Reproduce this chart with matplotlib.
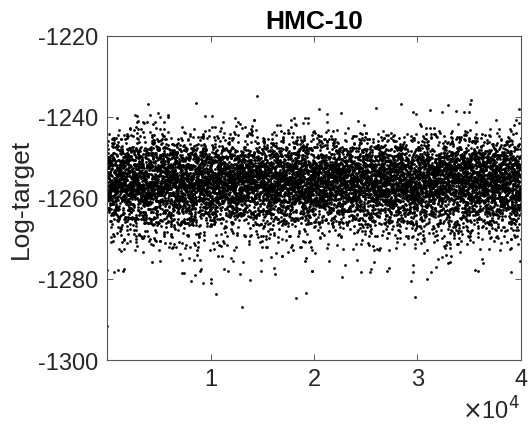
import numpy as np
import matplotlib
matplotlib.use("Agg")
import matplotlib.pyplot as plt

# trace of log-target for HMC-10, 40000 iterations kept every 4th
n_iter = 40000
thin = 4

# shape of the dense band (cumulative prob -> log-target)
band_probs = [0.0, 0.001, 0.005, 0.01, 0.02, 0.05, 0.1, 0.2, 0.3, 0.4, 0.5,
              0.6, 0.7, 0.8, 0.9, 0.95, 0.98, 0.99, 0.995, 0.999, 1.0]
band_levels = [-1279.0, -1276.0, -1273.0, -1271.5, -1269.5, -1266.5, -1264.0,
               -1261.0, -1259.2, -1257.6, -1256.2, -1254.8, -1253.3, -1251.6,
               -1249.2, -1247.3, -1245.2, -1243.8, -1242.6, -1240.5, -1238.5]

# isolated draws outside the band, read one by one
low_iter = [30, 680, 30, 1100, 1500, 7230, 8130, 8520, 9000, 9290, 10070,
            10070, 10550, 11300, 11700, 13000, 13840, 14900, 16100, 18230,
            19200, 19810, 19850, 22710, 25400, 25500, 27100, 27200, 29330,
            29780, 30940, 31300, 31800, 35600, 35880, 39920]
low_value = [-1291.7, -1278.3, -1277.7, -1277.7, -1278.0, -1278.5, -1280.6,
             -1278.9, -1278.0, -1281.0, -1280.0, -1281.1, -1283.8, -1277.6,
             -1278.0, -1287.0, -1280.2, -1278.0, -1277.3, -1284.8, -1283.5,
             -1278.0, -1278.0, -1279.4, -1278.3, -1277.6, -1278.0, -1277.4,
             -1280.5, -1284.4, -1280.0, -1278.3, -1277.0, -1277.9, -1278.1,
             -1275.5]
high_iter = [940, 3940, 4160, 5160, 5930, 8550, 9490, 10100, 12400, 14490,
             19090, 20450, 26000, 28370, 29600, 31200, 32940, 33700, 34500,
             35140, 35100, 35000, 39810]
high_value = [-1240.2, -1236.7, -1239.5, -1240.0, -1239.5, -1236.5, -1239.7,
              -1239.7, -1240.3, -1234.7, -1240.3, -1238.0, -1237.8, -1236.7,
              -1238.7, -1238.3, -1237.0, -1238.4, -1238.7, -1235.8, -1236.8,
              -1238.7, -1238.0]

iters = np.arange(thin, n_iter + 1, thin)
rng = np.random.default_rng(10)
values = np.interp(rng.random(len(iters)), band_probs, band_levels)

fig = plt.figure(figsize=(5.28, 4.31), dpi=100)
ax = fig.add_axes([0.2027, 0.1624, 0.7840, 0.7518])

dot = dict(color="k", markersize=2.0, markeredgewidth=0, linestyle="none")
ax.plot(iters, values, "o", **dot)
ax.plot(low_iter, low_value, "o", **dot)
ax.plot(high_iter, high_value, "o", **dot)

ax.set_xlim(0, 40000)
ax.set_ylim(-1300, -1220)
ax.set_xticks([10000, 20000, 30000, 40000])
ax.set_xticklabels(["1", "2", "3", "4"])
ax.set_yticks([-1300, -1280, -1260, -1240, -1220])
ax.set_yticklabels(["-1300", "-1280", "-1260", "-1240", "-1220"])

font = "Liberation Sans"
for lab in ax.get_xticklabels() + ax.get_yticklabels():
    lab.set_fontfamily(font)
    lab.set_fontsize(17)
    lab.set_color("#262626")
ax.tick_params(direction="in", length=4, width=0.6, color="#404040",
               top=True, right=True, pad=6)
for sp in ax.spines.values():
    sp.set_color("#555555")
    sp.set_linewidth(0.8)

ax.set_ylabel("Log-target", fontfamily=font, fontsize=19, color="#262626",
              labelpad=4)
ax.set_title("HMC-10", fontfamily=font, fontsize=19, fontweight="bold",
             color="k", pad=6)
fig.text(0.985, 0.015, r"$\times$10$^4$", ha="right", va="bottom",
         fontfamily=font, fontsize=17, color="#262626")

fig.savefig("out.png", dpi=100)
